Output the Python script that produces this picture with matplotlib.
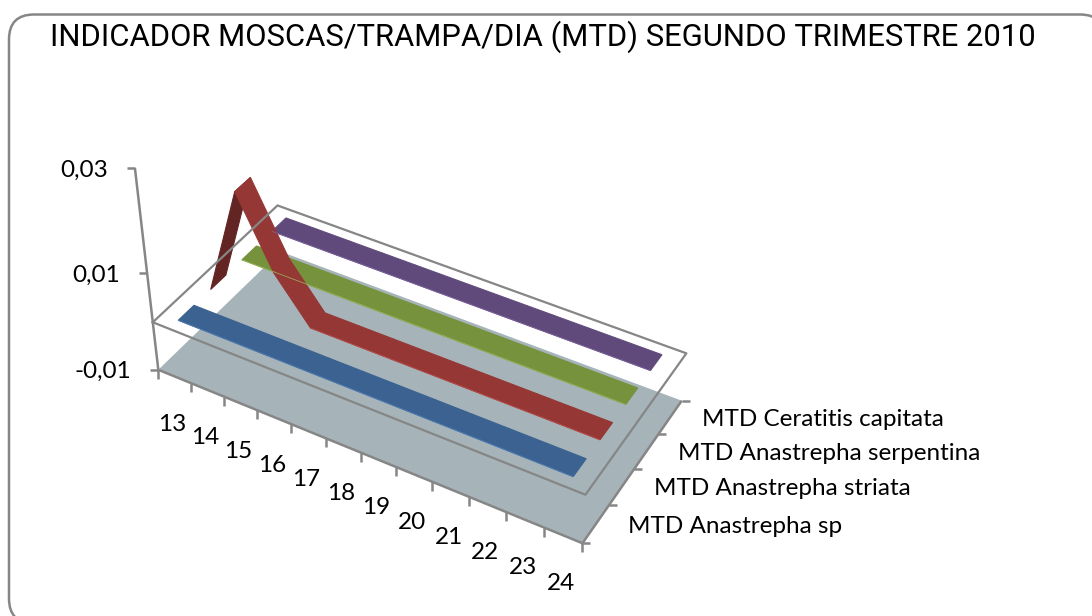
import numpy as np
import matplotlib
matplotlib.use('Agg')
import matplotlib.pyplot as plt
from matplotlib.patches import FancyBboxPatch

plt.rcParams['font.family'] = ['Lato', 'DejaVu Sans']

##datos
title = 'INDICADOR MOSCAS/TRAMPA/DIA (MTD) SEGUNDO TRIMESTRE 2010'
weeks = ['13', '14', '15', '16', '17', '18', '19', '20', '21', '22', '23', '24']
series_names = ['MTD Anastrepha sp', 'MTD Anastrepha striata',
                'MTD Anastrepha serpentina', 'MTD Ceratitis capitata']
mtd_sp = [0, 0, 0, 0, 0, 0, 0, 0, 0, 0, 0, 0]
mtd_striata = [0, 0.022, 0.0085, 0, 0, 0, 0, 0, 0, 0, 0, 0]
mtd_serpentina = [0, 0, 0, 0, 0, 0, 0, 0, 0, 0, 0, 0]
mtd_ceratitis = [0, 0, 0, 0, 0, 0, 0, 0, 0, 0, 0, 0]
value_ticks = [-0.01, 0.01, 0.03]
value_labels = ['-0,01', '0,01', '0,03']

colors = ['#3B6290', '#953735', '#76923C', '#604A7B']
under_colors = ['#2C4A6E', '#632523', '#586D2D', '#48375C']
edge_colors = ['#4F81BD', '#C0504D', '#9BBB59', '#8064A2']
grid_color = '#868686'
floor_color = '#A6B4B9'

##proyeccion 3D -> pixeles (camara ajustada a las esquinas de la caja)
box_3d = np.array([[0, 0, -0.01], [12, 0, -0.01], [12, 4, -0.01], [0, 4, -0.01],
                   [0, 0, 0], [12, 0, 0], [12, 4, 0], [0, 4, 0],
                   [0, 0, 0.01], [0, 0, 0.03]])
box_px = np.array([[158, 370], [582, 543], [682, 401], [281, 252],
                   [153, 321], [586, 495], [686, 353], [277, 205],
                   [147, 274], [135, 168]])
scale = np.array([1, 1, 100])
rows, rhs = [], []
for p, q in zip(box_3d * scale, box_px):
    X = [p[0], p[1], p[2], 1]
    rows.append(X + [0, 0, 0, 0] + [-q[0] * c for c in X[:3]])
    rows.append([0, 0, 0, 0] + X + [-q[1] * c for c in X[:3]])
    rhs += [q[0], q[1]]
cam = np.linalg.lstsq(np.array(rows, float), np.array(rhs, float), rcond=None)[0]
cam = np.append(cam, 1).reshape(3, 4)


def proj(u, s, v):
    h = cam @ np.array([u, s, v * 100, 1])
    return h[0] / h[2], h[1] / h[2]


fig = plt.figure(figsize=(10.92, 6.16), dpi=100)
ax = fig.add_axes([0, 0, 1, 1])
ax.set_xlim(0, 1092)
ax.set_ylim(616, 0)
ax.axis('off')

#marco (se sale del lienzo por la derecha y por abajo)
ax.add_patch(FancyBboxPatch((9 + 25, 14.5 + 25), 1096 - 50, 609 - 50,
                            boxstyle='round,pad=25,rounding_size=25',
                            fc='white', ec=grid_color, lw=1.8))
ax.text(50, 37, title, fontsize=22.35, va='center', ha='left', color='black',
        family=['Roboto', 'Lato'])

n_u = len(weeks)
n_s = len(series_names)
v_low = value_ticks[0]

#piso
floor = [proj(0, 0, v_low), proj(n_u, 0, v_low), proj(n_u, n_s, v_low), proj(0, n_s, v_low)]
ax.fill(*zip(*floor), color=floor_color, lw=0)

#plano cero
plane = [proj(0, 0, 0), proj(n_u, 0, 0), proj(n_u, n_s, 0), proj(0, n_s, 0), proj(0, 0, 0)]
ax.plot(*zip(*plane), color=grid_color, lw=1.6)

#ejes
line_kw = dict(color=grid_color, lw=1.8, solid_capstyle='butt')
ax.plot(*zip(proj(0, 0, v_low), proj(0, 0, value_ticks[-1])), **line_kw)
ax.plot(*zip(proj(0, 0, v_low), proj(n_u, 0, v_low)), **line_kw)
ax.plot(*zip(proj(n_u, 0, v_low), proj(n_u, n_s, v_low)), **line_kw)
for v, lab in zip(value_ticks, value_labels):
    x, y = proj(0, 0, v)
    ax.plot([x - 8, x], [y, y], **line_kw)
    ax.text(x - 27, y + 2, lab, ha='right', va='center', fontsize=17.5)
for i in range(n_u + 1):
    x, y = proj(i, 0, v_low)
    ax.plot([x, x], [y, y + 9], **line_kw)
for i, lab in enumerate(weeks):
    x, y = proj(i + 0.5, 0, v_low)
    ax.text(x - 2, y + 48, lab, ha='center', va='center', fontsize=17.5)
for i in range(n_s + 1):
    x, y = proj(n_u, i, v_low)
    ax.plot([x, x + 8], [y, y], **line_kw)
for i, lab in enumerate(series_names):
    x, y = proj(n_u, i + 0.5, v_low)
    ax.text(x + 32, y + 2, lab, ha='left', va='center', fontsize=17.5)

#cintas, de atras hacia adelante
series = [mtd_sp, mtd_striata, mtd_serpentina, mtd_ceratitis]
for k in [3, 2, 1, 0]:
    vals = series[k]
    s0, s1 = k + 0.27, k + 0.75
    for i in range(n_u - 1):
        u0, u1 = i + 0.5, i + 1.5
        poly = [proj(u0, s0, vals[i]), proj(u1, s0, vals[i + 1]),
                proj(u1, s1, vals[i + 1]), proj(u0, s1, vals[i])]
        c = under_colors[k] if vals[i + 1] > vals[i] else colors[k]
        ax.fill(*zip(*poly), color=c, lw=0.8)
        if vals[i + 1] == vals[i]:
            ax.plot(*zip(poly[0], poly[1]), color=edge_colors[k], lw=0.5)

fig.savefig('out.png', dpi=100)
